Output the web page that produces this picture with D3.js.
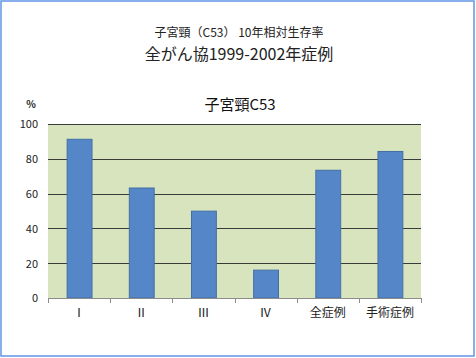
<!DOCTYPE html>
<html><head><meta charset="utf-8">
<script src="https://cdn.jsdelivr.net/npm/d3@7"></script>
<style>html,body{margin:0;padding:0;background:#fff;}svg{display:block;}</style>
</head><body><div id="chart"></div>
<script>
const categories = ["Ⅰ","Ⅱ","Ⅲ","Ⅳ","全症例","手術症例"];
const values = [91.5, 63.5, 50.2, 16.3, 73.7, 84.5];
const yTicks = [0, 20, 40, 60, 80, 100];
const titleLine1 = "子宮頸（C53） 10年相対生存率";
const titleLine2 = "全がん協1999-2002年症例";
const chartTitle = "子宮頸C53";
const unitLabel = "%";

const W = 476, H = 358;
const font = "'Noto Sans CJK JP', 'Liberation Sans', sans-serif";
const svg = d3.select("#chart").append("svg").attr("width", W).attr("height", H);

svg.append("rect").attr("x", 1).attr("y", 1).attr("width", 473).attr("height", 355)
  .attr("fill", "#fff").attr("stroke", "#6b9be6").attr("stroke-width", 1.6);

const m = {left: 48, right: 421, top: 124, bottom: 298};
const x = d3.scaleBand().domain(categories).range([m.left, m.right]).paddingInner(0.6).paddingOuter(0.3);
const y = d3.scaleLinear().domain([0, 100]).range([m.bottom, m.top]);

svg.append("rect").attr("x", m.left).attr("y", m.top).attr("width", m.right - m.left).attr("height", m.bottom - m.top)
  .attr("fill", "#d7e4bd");

// gridlines
svg.append("g").selectAll("line").data(yTicks.filter(d => d > 0)).join("line")
  .attr("x1", m.left).attr("x2", m.right)
  .attr("y1", d => Math.round(y(d)) + 0.5).attr("y2", d => Math.round(y(d)) + 0.5)
  .attr("stroke", "#3a3a3a").attr("stroke-width", 1);

// bars
svg.append("g").selectAll("rect").data(values).join("rect")
  .attr("x", (d, i) => x(categories[i]) + 0.5)
  .attr("y", d => y(d) + 0.5)
  .attr("width", x.bandwidth())
  .attr("height", d => y(0) - y(d) - 0.5)
  .attr("fill", "#5586c8").attr("stroke", "#426fa6").attr("stroke-width", 1);

// y axis labels
const yAxis = d3.axisLeft(y).tickValues(yTicks).tickSize(0).tickPadding(10);
const gy = svg.append("g").attr("transform", `translate(${m.left},0)`).call(yAxis);
gy.select(".domain").remove();
gy.selectAll("text").attr("font-family", font).attr("font-size", 11).attr("fill", "#222").attr("dy", "0.35em");

// x axis
const xOuter = d3.scaleBand().domain(categories).range([m.left, m.right]);
const gx = svg.append("g").attr("transform", `translate(0,${m.bottom})`);
gx.append("line").attr("x1", m.left).attr("x2", m.right).attr("y1", 0.5).attr("y2", 0.5)
  .attr("stroke", "#8c8c8c").attr("stroke-width", 1);
const bounds = categories.map(c => xOuter(c)).concat([m.right]);
gx.selectAll("line.tk").data(bounds).join("line").attr("class", "tk")
  .attr("x1", d => Math.round(d) + 0.5).attr("x2", d => Math.round(d) + 0.5)
  .attr("y1", 0).attr("y2", 5).attr("stroke", "#8c8c8c");
gx.selectAll("text").data(categories).join("text")
  .attr("x", d => xOuter(d) + xOuter.bandwidth() / 2)
  .attr("y", 19)
  .attr("text-anchor", "middle")
  .attr("font-family", font).attr("font-size", 12).attr("fill", "#222")
  .text(d => d);

// titles
svg.append("text").attr("x", 239).attr("y", 37).attr("text-anchor", "middle")
  .attr("font-family", font).attr("font-size", 12).attr("fill", "#222").text(titleLine1);
svg.append("text").attr("x", 239).attr("y", 60).attr("text-anchor", "middle")
  .attr("font-family", font).attr("font-size", 16).attr("fill", "#222").text(titleLine2);
svg.append("text").attr("x", 240).attr("y", 110).attr("text-anchor", "middle")
  .attr("font-family", font).attr("font-size", 15).attr("fill", "#111").text(chartTitle);
svg.append("text").attr("x", 31).attr("y", 108).attr("text-anchor", "middle")
  .attr("font-family", font).attr("font-size", 10).attr("font-weight", "bold").attr("fill", "#222").text(unitLabel);
</script></body></html>
